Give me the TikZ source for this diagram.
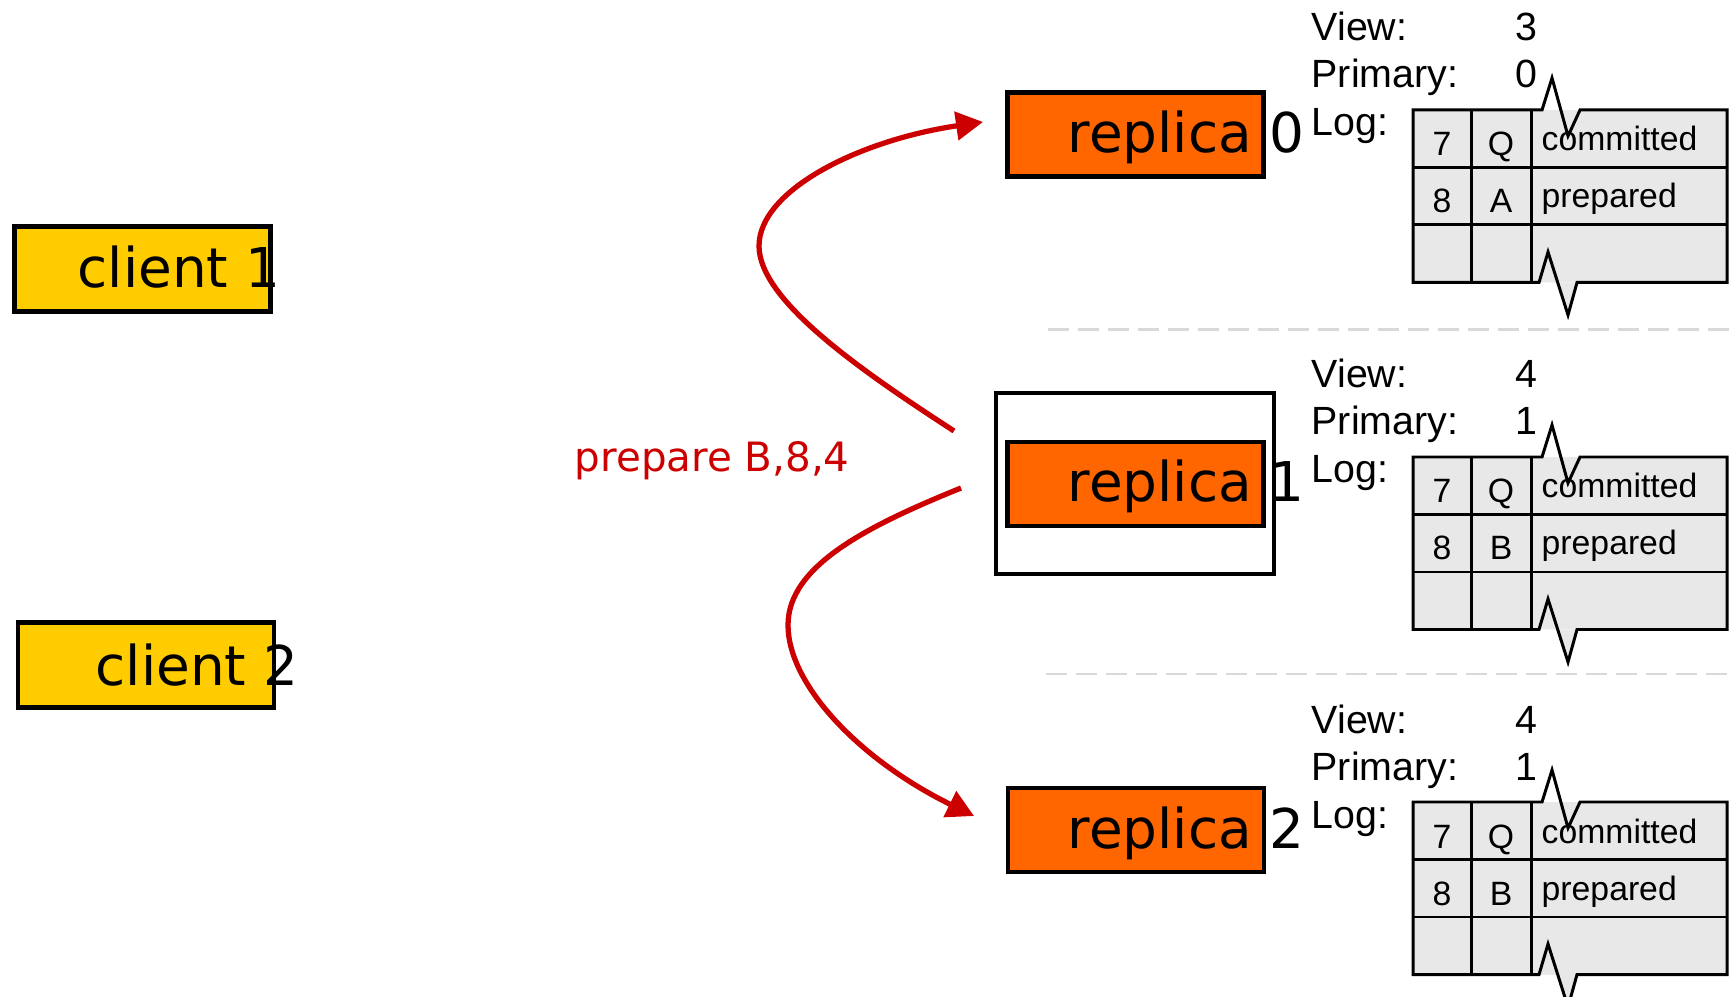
\documentclass[tikz,border=0pt]{standalone}
\usepackage{fontspec}
\setmainfont{DejaVu Sans}
\newfontfamily\tablefont{Liberation Sans}
\usetikzlibrary{arrows.meta}

\definecolor{clientyellow}{HTML}{FFCC00}
\definecolor{replicaorange}{HTML}{FF6600}
\definecolor{msgred}{HTML}{CC0000}
\definecolor{loggray}{HTML}{E8E8E8}
\definecolor{sepgray}{HTML}{D9D9D9}

\tikzset{
  clientbox/.style={draw=black, line width=1.3pt, fill=clientyellow, inner sep=0pt, minimum width=2.56cm, minimum height=0.85cm},
  replicabox/.style={draw=black, line width=1.3pt, fill=replicaorange, inner sep=0pt, minimum width=2.56cm, minimum height=0.84cm},
  primaryframe/.style={draw=black, line width=1.2pt, inner sep=0pt, minimum width=2.78cm, minimum height=1.81cm},
  boxtext/.style={anchor=base west, inner sep=0pt, font=\fontsize{15.6pt}{18pt}\selectfont},
  infotext/.style={anchor=base west, inner sep=0pt, font=\tablefont\fontsize{11.2pt}{13pt}\selectfont},
  celltext/.style={anchor=base, inner sep=0pt, font=\tablefont\fontsize{9.6pt}{11pt}\selectfont},
  wordtext/.style={anchor=base west, inner sep=0pt, font=\tablefont\fontsize{9.6pt}{11pt}\selectfont},
  logline/.style={draw=black, line width=0.85pt},
  logshade/.style={fill=loggray},
  viewsep/.style={draw=sepgray, line width=0.85pt, dash pattern=on 0.21cm off 0.09cm},
  prepmsg/.style={-{Triangle[length=0.27cm,width=0.28cm]}, line width=1.5pt, draw=msgred},
}

\begin{document}
\begin{tikzpicture}
\useasboundingbox [fill=white] (0, 0) rectangle (17.36, -9.97);

% clients
\node (c1) at (1.425, -2.69) [clientbox] {};
\node (c1text) at (0.77, -2.88) [boxtext] {client 1};
\node (c2) at (1.46, -6.65) [clientbox] {};
\node (c2text) at (0.95, -6.85) [boxtext] {client 2};

% replicas
\node (r1frame) at (11.35, -4.835) [primaryframe] {};
\node (r0) at (11.355, -1.345) [replicabox] {};
\node (r0text) at (10.67, -1.53) [boxtext] {replica 0};
\node (r1) at (11.355, -4.84) [replicabox] {};
\node (r1text) at (10.67, -5.02) [boxtext] {replica 1};
\node (r2) at (11.36, -8.30) [replicabox] {};
\node (r2text) at (10.67, -8.48) [boxtext] {replica 2};

% separators
\coordinate (sep0a) at (10.48, -3.30);
\coordinate (sep0b) at (17.36, -3.30);
\coordinate (sep1a) at (10.46, -6.74);
\coordinate (sep1b) at (17.36, -6.74);
\draw [viewsep] (sep0a) -- (sep0b);
\draw [viewsep] (sep1a) -- (sep1b);

% replica 0 state
\node (view0) at (13.11, -0.41) [infotext] {View:};
\node (viewnum0) at (15.15, -0.41) [infotext] {3};
\node (prim0) at (13.11, -0.88) [infotext] {Primary:};
\node (primnum0) at (15.15, -0.88) [infotext] {0};
\node (log0) at (13.11, -1.36) [infotext] {Log:};
\fill [logshade] (14.13, -1.10) rectangle (17.27, -2.825);
\fill [logshade] (15.39, -2.825) -- (15.48, -2.52) -- (15.68, -3.15) -- (15.77, -2.825) -- cycle;
\draw [logline] (15.42, -1.10) -- (14.13, -1.10) -- (14.13, -2.825) -- (15.39, -2.825) -- (15.48, -2.52) -- (15.68, -3.15) -- (15.77, -2.825) -- (17.27, -2.825) -- (17.27, -1.10) -- (15.80, -1.10) -- (15.68, -1.36) -- (15.52, -0.78) -- cycle;
\draw [logline] (14.13, -1.675) -- (17.27, -1.675);
\draw [logline] (14.13, -2.25) -- (17.27, -2.25);
\draw [logline] (14.71, -1.10) -- (14.71, -2.825);
\draw [logline] (15.31, -1.10) -- (15.31, -2.825);
\node (seq07) at (14.42, -1.56) [celltext] {7};
\node (op07) at (15.01, -1.56) [celltext] {Q};
\node (st07) at (15.41, -1.51) [wordtext] {committed};
\node (seq08) at (14.42, -2.13) [celltext] {8};
\node (op08) at (15.01, -2.13) [celltext] {A};
\node (st08) at (15.41, -2.08) [wordtext] {prepared};

% replica 1 state
\begin{scope}[yshift=-3.47cm]
\node (view1) at (13.11, -0.41) [infotext] {View:};
\node (viewnum1) at (15.15, -0.41) [infotext] {4};
\node (prim1) at (13.11, -0.88) [infotext] {Primary:};
\node (primnum1) at (15.15, -0.88) [infotext] {1};
\node (log1) at (13.11, -1.36) [infotext] {Log:};
\fill [logshade] (14.13, -1.10) rectangle (17.27, -2.825);
\fill [logshade] (15.39, -2.825) -- (15.48, -2.52) -- (15.68, -3.15) -- (15.77, -2.825) -- cycle;
\draw [logline] (15.42, -1.10) -- (14.13, -1.10) -- (14.13, -2.825) -- (15.39, -2.825) -- (15.48, -2.52) -- (15.68, -3.15) -- (15.77, -2.825) -- (17.27, -2.825) -- (17.27, -1.10) -- (15.80, -1.10) -- (15.68, -1.36) -- (15.52, -0.78) -- cycle;
\draw [logline] (14.13, -1.675) -- (17.27, -1.675);
\draw [logline] (14.13, -2.25) -- (17.27, -2.25);
\draw [logline] (14.71, -1.10) -- (14.71, -2.825);
\draw [logline] (15.31, -1.10) -- (15.31, -2.825);
\node (seq17) at (14.42, -1.56) [celltext] {7};
\node (op17) at (15.01, -1.56) [celltext] {Q};
\node (st17) at (15.41, -1.51) [wordtext] {committed};
\node (seq18) at (14.42, -2.13) [celltext] {8};
\node (op18) at (15.01, -2.13) [celltext] {B};
\node (st18) at (15.41, -2.08) [wordtext] {prepared};
\end{scope}

% replica 2 state
\begin{scope}[yshift=-6.92cm]
\node (view2) at (13.11, -0.41) [infotext] {View:};
\node (viewnum2) at (15.15, -0.41) [infotext] {4};
\node (prim2) at (13.11, -0.88) [infotext] {Primary:};
\node (primnum2) at (15.15, -0.88) [infotext] {1};
\node (log2) at (13.11, -1.36) [infotext] {Log:};
\fill [logshade] (14.13, -1.10) rectangle (17.27, -2.825);
\fill [logshade] (15.39, -2.825) -- (15.48, -2.52) -- (15.68, -3.15) -- (15.77, -2.825) -- cycle;
\draw [logline] (15.42, -1.10) -- (14.13, -1.10) -- (14.13, -2.825) -- (15.39, -2.825) -- (15.48, -2.52) -- (15.68, -3.15) -- (15.77, -2.825) -- (17.27, -2.825) -- (17.27, -1.10) -- (15.80, -1.10) -- (15.68, -1.36) -- (15.52, -0.78) -- cycle;
\draw [logline] (14.13, -1.675) -- (17.27, -1.675);
\draw [logline] (14.13, -2.25) -- (17.27, -2.25);
\draw [logline] (14.71, -1.10) -- (14.71, -2.825);
\draw [logline] (15.31, -1.10) -- (15.31, -2.825);
\node (seq27) at (14.42, -1.56) [celltext] {7};
\node (op27) at (15.01, -1.56) [celltext] {Q};
\node (st27) at (15.41, -1.51) [wordtext] {committed};
\node (seq28) at (14.42, -2.13) [celltext] {8};
\node (op28) at (15.01, -2.13) [celltext] {B};
\node (st28) at (15.41, -2.08) [wordtext] {prepared};
\end{scope}

% prepare messages from the primary
\node (msg) at (5.74, -4.72) [anchor=base west, inner sep=0pt, text=msgred, font=\fontsize{11.5pt}{13pt}\selectfont] {prepare B,8,4};
\coordinate (send0) at (9.54, -4.31);
\coordinate (recv0) at (9.83, -1.22);
\coordinate (send2) at (9.61, -4.88);
\coordinate (recv2) at (9.74, -8.16);
\draw [prepmsg] (send0) .. controls (8.60, -3.70) and (7.59, -3.00) .. (7.59, -2.46) .. controls (7.59, -1.90) and (8.60, -1.40) .. (recv0);
\draw [prepmsg] (send2) .. controls (8.70, -5.25) and (7.88, -5.65) .. (7.88, -6.25) .. controls (7.88, -6.85) and (8.60, -7.60) .. (recv2);
\end{tikzpicture}
\end{document}
